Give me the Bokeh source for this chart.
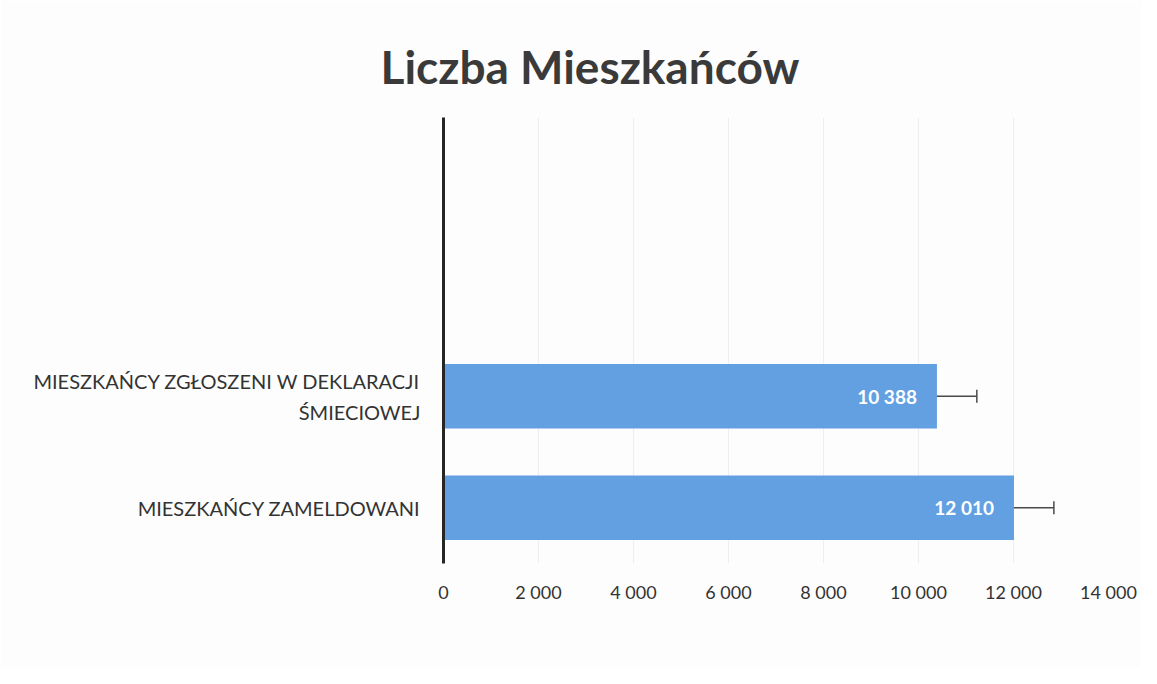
from bokeh.plotting import figure
from bokeh.models import ColumnDataSource, FactorRange, Range1d, FixedTicker, Whisker, TeeHead
from bokeh.core.properties import value
from bokeh.embed import file_html
from bokeh.resources import INLINE

# ---- data ----
categories = ["MIESZKAŃCY ZAMELDOWANI", "MIESZKAŃCY ZGŁOSZENI W DEKLARACJI\nŚMIECIOWEJ"]
residents = [12010, 10388]
error_amount = [840, 840]
pad_factors = [" ", "  "]
x_ticks = [0, 2000, 4000, 6000, 8000, 10000, 12000, 14000]
title_text = "Liczba Mieszkańców"

def fmt(v):
    return f"{v:,}".replace(",", " ")

src = ColumnDataSource(dict(
    cat=categories,
    val=residents,
    lab=[fmt(v) for v in residents],
    lo=[v - e for v, e in zip(residents, error_amount)],
    hi=[v + e for v, e in zip(residents, error_amount)],
))

FONT = "Lato"

p = figure(
    width=1141, height=668,
    y_range=FactorRange(factors=categories + pad_factors, range_padding=0, factor_padding=0),
    x_range=Range1d(x_ticks[0], x_ticks[-1]),
    output_backend="svg", toolbar_location=None,
    min_border_left=443, min_border_right=33, min_border_top=117, min_border_bottom=105,
)
p.background_fill_color = "#fdfdfd"
p.border_fill_color = "#fdfdfd"
p.outline_line_color = None

p.title.text = title_text
p.title.text_font = FONT
p.title.text_font_size = "46px"
p.title.text_font_style = "bold"
p.title.text_color = "#3a3a3a"
p.title.align = "left"
p.title.offset = -63
p.title.standoff = 47

p.hbar(y="cat", right="val", height=0.58, source=src, color="#62A0E2", line_color=None)

w = Whisker(source=src, base="cat", lower="lo", upper="hi", dimension="width",
            line_color="#4a4a4a", line_width=1.5,
            upper_head=TeeHead(size=13, line_color="#4a4a4a", line_width=1.5),
            lower_head=None)
p.add_layout(w)

t = p.text(x="val", y="cat", text="lab", source=src, x_offset=-20,
           text_align="right", text_baseline="middle", text_color="white",
           text_font=value(FONT), text_font_size="19px", text_font_style="bold")
t.level = "overlay"

# axes
p.xaxis.ticker = FixedTicker(ticks=x_ticks)
p.xaxis.major_label_overrides = {t_: fmt(t_) for t_ in x_ticks}
p.xaxis.axis_line_color = None
p.xaxis.major_tick_line_color = None
p.xaxis.minor_tick_line_color = None
p.xaxis.major_label_text_font = FONT
p.xaxis.major_label_text_font_size = "18px"
p.xaxis.major_label_text_color = "#333333"
p.xaxis.major_label_standoff = 11

p.yaxis.axis_line_color = "#262626"
p.yaxis.axis_line_width = 3
p.yaxis.major_tick_line_color = None
p.yaxis.minor_tick_line_color = None
p.yaxis.major_label_text_font = FONT
p.yaxis.major_label_text_font_size = "20px"
p.yaxis.major_label_text_color = "#333333"
p.yaxis.major_label_standoff = 17
p.yaxis.major_label_text_line_height = 1.3

p.xgrid.grid_line_color = "#eeeeee"
p.ygrid.grid_line_color = None

open("out.html", "w").write(file_html(p, INLINE))
